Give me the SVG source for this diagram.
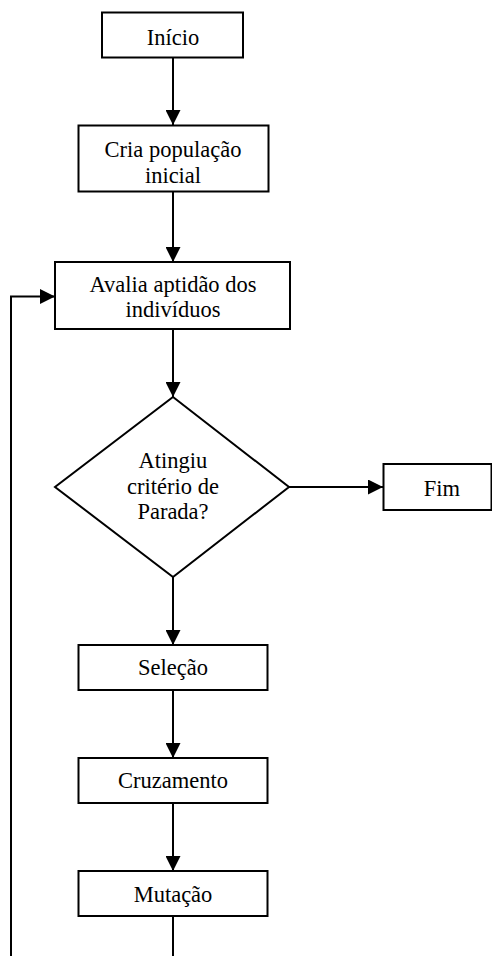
<svg xmlns="http://www.w3.org/2000/svg" width="492" height="956" viewBox="0 0 492 956">
<style>
.box{fill:#fff;stroke:#000;stroke-width:2}
.t{font-family:"Liberation Serif","Times New Roman",serif;font-size:22.5px;fill:#000;text-anchor:middle}
.c{fill:none;stroke:#000;stroke-width:2}
</style>
<defs>
<marker id="ah" markerWidth="15" markerHeight="15" refX="15" refY="7.5" orient="auto" markerUnits="userSpaceOnUse">
<path d="M0,0 L15,7.5 L0,15 Z" fill="#000"/>
</marker>
</defs>
<rect width="492" height="956" fill="#fff"/>
<g id="connectors">
<line class="c" x1="173" y1="57" x2="173" y2="125" marker-end="url(#ah)"/>
<line class="c" x1="173" y1="192" x2="173" y2="262" marker-end="url(#ah)"/>
<line class="c" x1="173" y1="329" x2="173" y2="397" marker-end="url(#ah)"/>
<line class="c" x1="289" y1="487" x2="383" y2="487" marker-end="url(#ah)"/>
<line class="c" x1="173" y1="577" x2="173" y2="645" marker-end="url(#ah)"/>
<line class="c" x1="173" y1="690" x2="173" y2="758" marker-end="url(#ah)"/>
<line class="c" x1="173" y1="803" x2="173" y2="871" marker-end="url(#ah)"/>
<line class="c" x1="173" y1="916" x2="173" y2="956"/>
<polyline class="c" points="11,956 11,296.5 55,296.5" marker-end="url(#ah)"/>
</g>
<g id="inicio">
<rect class="box" x="102" y="12.5" width="141" height="45"/>
<text class="t" x="173" y="45">Início</text>
</g>
<g id="cria">
<rect class="box" x="78.5" y="125.5" width="190" height="66"/>
<text class="t" x="173" y="157">Cria população</text>
<text class="t" x="173" y="183">inicial</text>
</g>
<g id="avalia">
<rect class="box" x="55" y="262" width="235" height="67"/>
<text class="t" x="173" y="292">Avalia aptidão dos</text>
<text class="t" x="173" y="317">indivíduos</text>
</g>
<g id="decisao">
<polygon class="box" points="173,397 289,487 173,577 55,487"/>
<text class="t" x="173" y="468">Atingiu</text>
<text class="t" x="173" y="493.5">critério de</text>
<text class="t" x="173" y="519">Parada?</text>
</g>
<g id="fim">
<rect class="box" x="383.5" y="464" width="108" height="46"/>
<text class="t" x="442" y="495.5">Fim</text>
</g>
<g id="selecao">
<rect class="box" x="78.5" y="645" width="189" height="45"/>
<text class="t" x="173" y="675">Seleção</text>
</g>
<g id="cruzamento">
<rect class="box" x="78.5" y="758" width="189" height="45"/>
<text class="t" x="173" y="788">Cruzamento</text>
</g>
<g id="mutacao">
<rect class="box" x="78.5" y="871" width="189" height="45"/>
<text class="t" x="173" y="901.5">Mutação</text>
</g>
</svg>
